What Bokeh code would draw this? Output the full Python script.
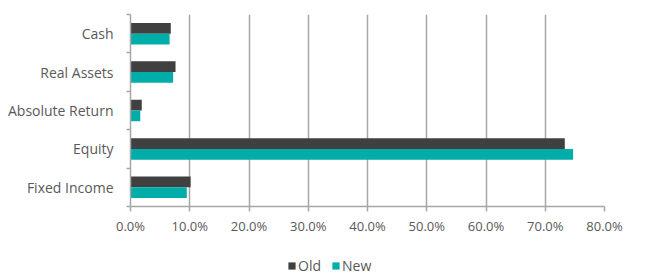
from bokeh.plotting import figure
from bokeh.layouts import column
from bokeh.models import Range1d, FixedTicker, NumeralTickFormatter, Legend, LegendItem, ColumnDataSource
from bokeh.embed import file_html
from bokeh.resources import INLINE

categories = ["Fixed Income", "Equity", "Absolute Return", "Real Assets", "Cash"]
old_vals = [0.1015, 0.733, 0.019, 0.076, 0.068]
new_vals = [0.095, 0.747, 0.0165, 0.072, 0.066]
x_ticks = [0.0, 0.1, 0.2, 0.3, 0.4, 0.5, 0.6, 0.7, 0.8]
series_names = ["Old", "New"]

OLD_C = "#404040"
NEW_C = "#00ADA9"
TXT = "#595959"
GRID = "#A6A6A6"
FONT = "Open Sans"

W = 654
H1 = 246
H2 = 29

p = figure(width=W, height=H1, output_backend="svg", toolbar_location=None,
           x_range=Range1d(0, 0.8), y_range=Range1d(0, len(categories)),
           min_border_left=130, min_border_right=50, min_border_top=14, min_border_bottom=40)
p.outline_line_color = None
p.background_fill_color = "white"

centers = [i + 0.5 for i in range(len(categories))]
bh = 0.28
src = ColumnDataSource(dict(
    cat=categories,
    y_old=[c + bh / 2 for c in centers],
    y_new=[c - bh / 2 for c in centers],
    old=old_vals, new=new_vals))

p.hbar(y="y_old", right="old", left=0, height=bh, source=src,
       fill_color=OLD_C, line_color=None)
p.hbar(y="y_new", right="new", left=0, height=bh, source=src,
       fill_color=NEW_C, line_color=None)

# grid
p.ygrid.grid_line_color = None
p.xgrid.ticker = FixedTicker(ticks=x_ticks)
p.xgrid.grid_line_color = GRID
p.xgrid.grid_line_width = 1.5

# x axis
xa = p.xaxis[0]
xa.ticker = FixedTicker(ticks=x_ticks)
xa.formatter = NumeralTickFormatter(format="0.0%")
xa.axis_line_color = GRID
xa.axis_line_width = 1.5
xa.major_tick_line_color = GRID
xa.major_tick_line_width = 1.5
xa.major_tick_out = 5
xa.major_tick_in = 0
xa.minor_tick_line_color = None
xa.major_label_text_font = FONT
xa.major_label_text_font_size = "13px"
xa.major_label_text_color = TXT
xa.major_label_standoff = 5

# y axis
ya = p.yaxis[0]
ya.ticker = FixedTicker(ticks=centers, minor_ticks=list(range(len(categories) + 1)))
ya.major_label_overrides = {c: n for c, n in zip(centers, categories)}
ya.axis_line_color = GRID
ya.axis_line_width = 1.5
ya.major_tick_line_color = None
ya.major_tick_out = 0
ya.major_tick_in = 0
ya.minor_tick_line_color = GRID
ya.minor_tick_line_width = 1.5
ya.minor_tick_out = 4
ya.minor_tick_in = 0
ya.major_label_text_font = FONT
ya.major_label_text_font_size = "14px"
ya.major_label_text_color = TXT
ya.major_label_standoff = 13

# legend strip (swatch renderers sit outside the visible range)
lg = figure(width=W, height=H2, output_backend="svg", toolbar_location=None,
            x_range=Range1d(0, 1), y_range=Range1d(0, 1),
            min_border_left=0, min_border_right=0, min_border_top=0, min_border_bottom=0)
lg.axis.visible = False
lg.grid.visible = False
lg.outline_line_color = None
lr_old = lg.hbar(y=[-5], right=[0], left=[0], height=1, fill_color=OLD_C, line_color=None)
lr_new = lg.hbar(y=[-5], right=[0], left=[0], height=1, fill_color=NEW_C, line_color=None)

legend = Legend(items=[LegendItem(label=series_names[0], renderers=[lr_old]),
                       LegendItem(label=series_names[1], renderers=[lr_new])],
                orientation="horizontal", location=(157, 0),
                glyph_width=9, glyph_height=9, label_height=9,
                padding=0, margin=0, spacing=10, label_standoff=2,
                border_line_color=None, background_fill_alpha=0,
                label_text_font=FONT, label_text_font_size="14px",
                label_text_color=TXT)
lg.add_layout(legend, "center")

layout = column(p, lg, spacing=0)
open("out.html", "w").write(file_html(layout, INLINE))
